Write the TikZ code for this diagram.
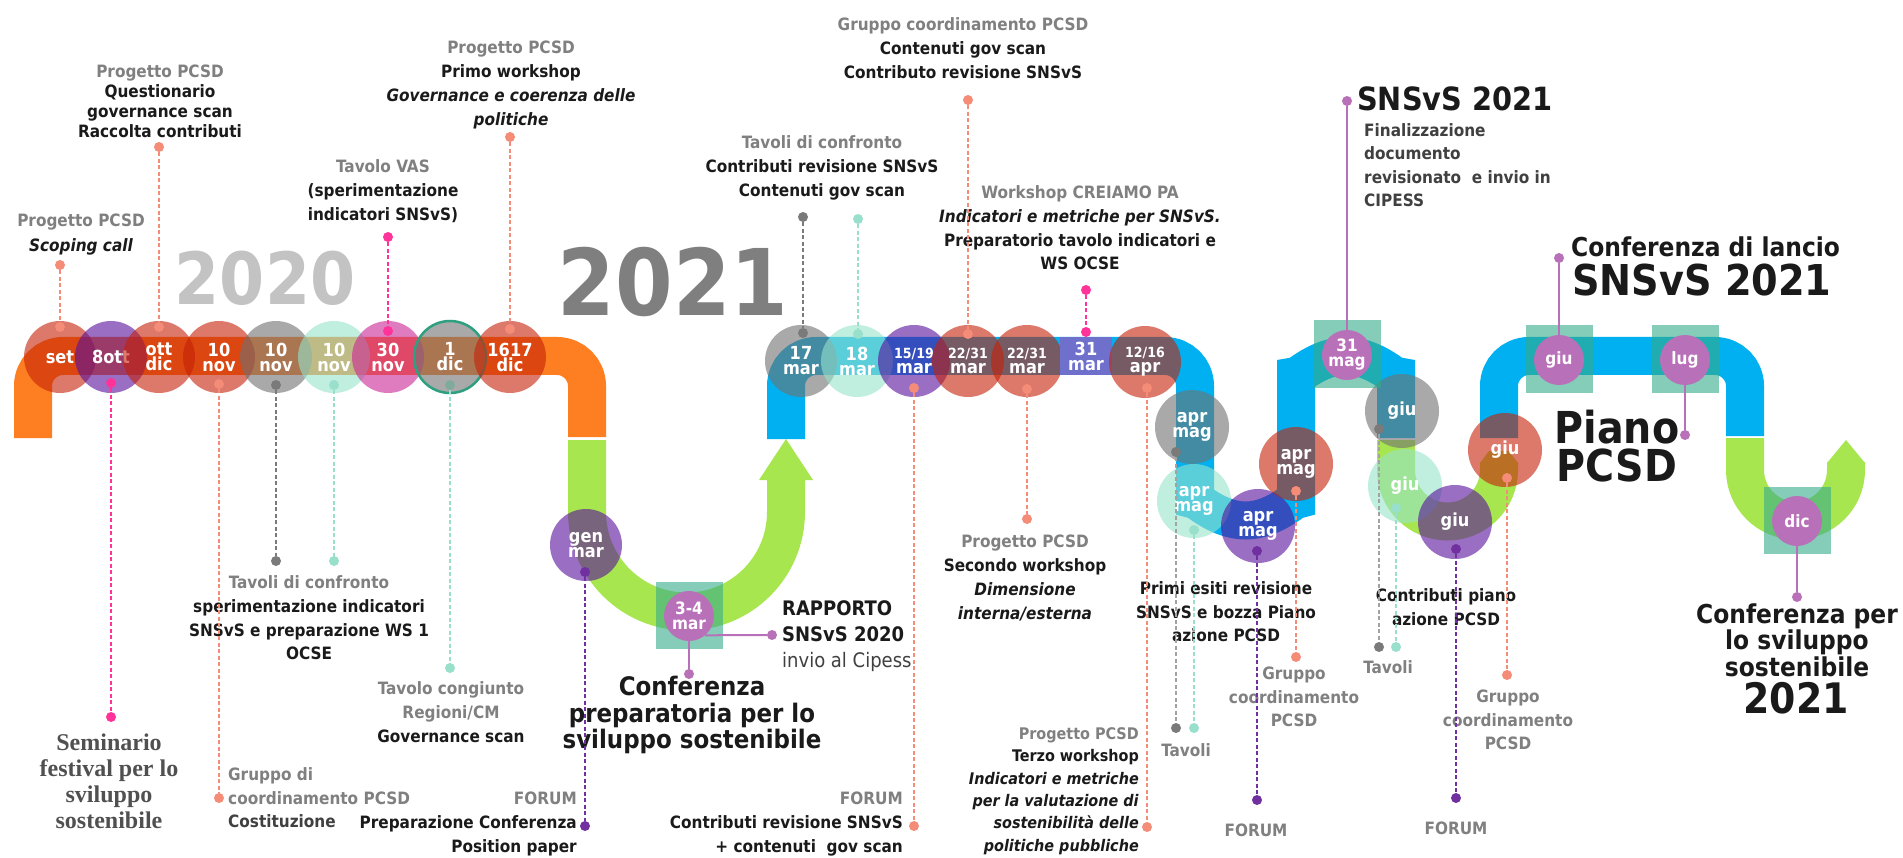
\documentclass[tikz,border=0pt]{standalone}
\usepackage{fontspec}
\setmainfont{DejaVu Sans Condensed}
\newfontfamily\seriffont{Liberation Serif}
\usepackage{tikz}
\usetikzlibrary{positioning}

\definecolor{orangeband}{HTML}{FD7F22}
\definecolor{blueband}{HTML}{00B0F0}
\definecolor{greenband}{HTML}{A8E650}
\definecolor{salmon}{HTML}{C52107}
\definecolor{violet}{HTML}{580F9B}
\definecolor{greyc}{HTML}{717171}
\definecolor{mint}{HTML}{96E3CB}
\definecolor{pinkc}{HTML}{CB2596}
\definecolor{orchid}{HTML}{B870B8}
\definecolor{tealsq}{HTML}{35AC89}
\definecolor{slate}{HTML}{6E70CC}
\definecolor{ring}{HTML}{2EA080}
\definecolor{dotsalmon}{HTML}{F48C78}
\definecolor{dotpink}{HTML}{FF3399}
\definecolor{dotgrey}{HTML}{7A7A7A}
\definecolor{dotmint}{HTML}{98DFCC}
\definecolor{dotdic}{HTML}{7FAA9C}
\definecolor{dotviolet}{HTML}{7030A0}
\definecolor{hdr}{HTML}{808080}
\definecolor{ink}{HTML}{1A1A1A}
\definecolor{ink2}{HTML}{404040}
\definecolor{semgrey}{HTML}{505050}
\definecolor{year20}{HTML}{C3C3C3}
\definecolor{year21}{HTML}{7F7F7F}

\begin{document}
\begin{tikzpicture}[x=1pt, y=-1pt]
    \tikzset{
        band/.style={line width=38pt},
        month/.style={circle, minimum size=72pt, inner sep=0pt, fill opacity=0.6, text opacity=1, text=white, align=center, font=\bfseries\fontsize{18}{15}\selectfont},
        keybox/.style={minimum size=67pt, inner sep=0pt, fill=tealsq, fill opacity=0.6},
        keyday/.style={circle, minimum size=50pt, inner sep=0pt, fill=orchid, text=white, align=center, font=\bfseries\fontsize{17}{15}\selectfont},
        spot/.style={circle, minimum size=10pt, inner sep=0pt},
        lead/.style={line width=1.5pt, dash pattern=on 4pt off 2.5pt},
        keylead/.style={line width=2pt, orchid},
        note/.style={align=center, inner sep=0pt, text=ink, font=\bfseries\fontsize{17}{24}\selectfont},
        tag/.style={inner sep=0pt, text=ink, font=\bfseries},
    }
    \fill[white] (0,0) rectangle (1903,858);
    \useasboundingbox (0,0) rectangle (1903,858);

    \node[tag, text=year20, font=\bfseries\fontsize{72}{72}\selectfont] (y2020) at (265,278) {2020};
    \node[tag, text=year21, font=\bfseries\fontsize{92}{92}\selectfont] (y2021) at (673,282) {2021};

    % track
    \draw[band, orangeband, rounded corners=30pt] (33,438) -- (33,356) -- (587,356) -- (587,437);
    \draw[band, greenband] (587,440) -- (587,512) arc[start angle=180, end angle=0, radius=99.5] -- (786,480);
    \fill[greenband] (759,480) -- (813,480) -- (786,439) -- cycle;
    \draw[band, blueband, rounded corners=30pt] (786,439) -- (786,356) -- (1195,356) -- (1195,470)
        arc[start angle=180, end angle=0, radius=50.5] -- (1296,406)
        arc[start angle=180, end angle=360, radius=50] -- (1396,438);
    \draw[band, greenband] (1396,440) -- (1396,470) arc[start angle=180, end angle=0, radius=51.5] -- (1499,462);
    \fill[greenband] (1480,463) -- (1489,451) -- (1509,451) -- (1518,463) -- cycle;
    \draw[band, blueband, rounded corners=30pt] (1499,438) -- (1499,356) -- (1745,356) -- (1745,436);
    \draw[band, greenband] (1745,438) -- (1745,470) arc[start angle=180, end angle=0, radius=50.5] -- (1846,462);
    \fill[greenband] (1827,463) -- (1865,463) -- (1846,440) -- cycle;

    % 2020
    \node[month, fill=salmon] (set) at (60,357) {set};
    \node[month, fill=violet] (ott8) at (111,357) {8ott};
    \node[month, fill=salmon] (ottdic) at (159,357) {ott\\dic};
    \node[month, fill=salmon] (nov10a) at (219,357) {10\\nov};
    \node[month, fill=greyc] (nov10b) at (276,357) {10\\nov};
    \node[month, fill=mint] (nov10c) at (334,357) {10\\nov};
    \node[month, fill=pinkc] (nov30) at (388,357) {30\\nov};
    \node[month, fill=greyc, draw=ring, line width=2.5pt] (dic1) at (450,357) {1\\dic};
    \node[month, fill=salmon] (dic1617) at (510,357) {1617\\dic};

    % 2021
    \node[month, fill=violet] (genmar) at (586,545) {gen\\mar};
    \node[month, fill=greyc] (mar17) at (801,361) {17\\mar};
    \node[month, fill=mint] (mar18) at (857,361) {18\\mar};
    \node[month, fill=violet] (mar1519) at (914,361) {{\fontsize{14}{15}\selectfont 15/19}\\mar};
    \node[month, fill=salmon] (mar2231a) at (968,361) {{\fontsize{14}{15}\selectfont 22/31}\\mar};
    \node[month, fill=salmon] (mar2231b) at (1027,361) {{\fontsize{14}{15}\selectfont 22/31}\\mar};
    \node[fill=slate, minimum width=52pt, minimum height=38pt, inner sep=0pt, text=white, align=center, font=\bfseries\fontsize{18}{15}\selectfont] (mar31) at (1086,356) {31\\mar};
    \node[month, fill=salmon] (apr1216) at (1145,362) {{\fontsize{14}{15}\selectfont 12/16}\\apr};
    \node[month, fill=greyc, minimum size=74pt] (am1) at (1192,427) {apr\\mag};
    \node[month, fill=mint, minimum size=74pt] (am2) at (1194,501) {apr\\mag};
    \node[month, fill=violet, minimum size=74pt] (am3) at (1258,526) {apr\\mag};
    \node[month, fill=salmon, minimum size=74pt] (am4) at (1296,464) {apr\\mag};
    \node[month, fill=greyc, minimum size=74pt] (giu1) at (1402,411) {giu};
    \node[month, fill=mint, minimum size=74pt] (giu2) at (1405,486) {giu};
    \node[month, fill=violet, minimum size=74pt] (giu3) at (1455,522) {giu};
    \node[month, fill=salmon, minimum size=74pt] (giu4) at (1505,450) {giu};

    % key dates
    \node[keybox] (mar34-box) at (689,615) {};
    \node[keybox] (mag31-box) at (1347,354) {};
    \node[keybox] (giu5-box) at (1559,359) {};
    \node[keybox] (lug-box) at (1685,359) {};
    \node[keybox] (dic-box) at (1797,520) {};
    \node[keyday] (mar34) at (689,616) {3-4\\mar};
    \node[keyday] (mag31) at (1347,355) {31\\mag};
    \node[keyday] (giu5) at (1559,360) {giu};
    \node[keyday] (lug) at (1685,360) {lug};
    \node[keyday] (dic) at (1797,521) {dic};

    % texts
    \node[note, font=\bfseries\fontsize{17}{25}\selectfont] (scoping) at (81,235) {\textcolor{hdr}{Progetto PCSD}\\\textit{Scoping call}};
    \node[note, font=\bfseries\fontsize{17}{20}\selectfont] (questionario) at (160,101) {\textcolor{hdr}{Progetto PCSD}\\Questionario\\governance scan\\Raccolta contributi};
    \node[note] (vas) at (383,191) {\textcolor{hdr}{Tavolo VAS}\\(sperimentazione\\indicatori SNSvS)};
    \node[note] (primo) at (511,85) {\textcolor{hdr}{Progetto PCSD}\\Primo workshop\\\textit{Governance e coerenza delle}\\\textit{politiche}};
    \node[note] (confronto) at (822,168) {\textcolor{hdr}{Tavoli di confronto}\\Contributi revisione SNSvS\\Contenuti gov scan};
    \node[note] (gruppo1) at (963,48) {\textcolor{hdr}{Gruppo coordinamento PCSD}\\Contenuti gov scan\\Contributo revisione SNSvS};
    \node[note, font=\bfseries\fontsize{17}{23.7}\selectfont] (creiamo) at (1080,228) {\textcolor{hdr}{Workshop CREIAMO PA}\\\textit{Indicatori e metriche per SNSvS.}\\Preparatorio tavolo indicatori e\\WS OCSE};
    \node[tag, anchor=west, font=\bfseries\fontsize{32}{32}\selectfont] (snsvs) at (1357,99) {SNSvS 2021};
    \node[note, anchor=north west, align=left, text=ink2, font=\bfseries\fontsize{17}{23.5}\selectfont] (finalizzazione) at (1364,123) {Finalizzazione\\documento\\revisionato~ e invio in\\CIPESS};
    \node[tag, anchor=west, font=\bfseries\fontsize{26}{26}\selectfont] (lancio) at (1571,247) {Conferenza di lancio};
    \node[tag, anchor=west, font=\bfseries\fontsize{42.5}{42.5}\selectfont] (lancio2) at (1572,280) {SNSvS 2021};
    \node[note, font=\bfseries\fontsize{44}{38}\selectfont] (piano) at (1617,446) {Piano\\PCSD};

    \node[note, text=semgrey, font=\seriffont\bfseries\fontsize{24}{26}\selectfont] (seminario) at (109,781) {Seminario\\festival per lo\\sviluppo\\sostenibile};
    \node[note, anchor=west, align=left, font=\bfseries\fontsize{17}{23.5}\selectfont] (costituzione) at (228,798) {\textcolor{hdr}{Gruppo di}\\\textcolor{hdr}{coordinamento PCSD}\\\textcolor{ink2}{Costituzione}};
    \node[note, font=\bfseries\fontsize{17}{23.7}\selectfont] (tavoli20) at (309,618) {\textcolor{hdr}{Tavoli di confronto}\\sperimentazione indicatori\\SNSvS e preparazione WS 1\\OCSE};
    \node[note] (congiunto) at (451,712) {\textcolor{hdr}{Tavolo congiunto}\\\textcolor{hdr}{Regioni/CM}\\Governance scan};
    \node[note, anchor=east, align=right] (posizione) at (577,824) {\textcolor{hdr}{FORUM}\\Preparazione Conferenza\\Position paper};
    \node[note, anchor=west, align=left, font=\bfseries\fontsize{20}{26}\selectfont] (rapporto) at (782,636) {RAPPORTO\\SNSvS 2020\\\textcolor{ink2}{\mdseries invio al Cipess}};
    \node[note, font=\bfseries\fontsize{25.5}{26.5}\selectfont] (preparatoria) at (692,715) {Conferenza\\preparatoria per lo\\sviluppo sostenibile};
    \node[note, anchor=east, align=right] (forum2) at (903,824) {\textcolor{hdr}{FORUM}\\Contributi revisione SNSvS\\+ contenuti~ gov scan};
    \node[note] (secondo) at (1025,578) {\textcolor{hdr}{Progetto PCSD}\\Secondo workshop\\\textit{Dimensione}\\\textit{interna/esterna}};
    \node[note, anchor=east, align=right, font=\bfseries\fontsize{16}{22.4}\selectfont] (terzo) at (1139,791) {\textcolor{hdr}{Progetto PCSD}\\Terzo workshop\\\textit{Indicatori e metriche}\\\textit{per la valutazione di}\\\textit{sostenibilità delle}\\\textit{politiche pubbliche}};
    \node[note, text=hdr] (tavoli1) at (1186,750) {Tavoli};
    \node[note, font=\bfseries\fontsize{17}{23.5}\selectfont] (primi) at (1226,612) {Primi esiti revisione\\SNSvS e bozza Piano\\azione PCSD};
    \node[note, text=hdr] (forum3) at (1256,830) {FORUM};
    \node[note, text=hdr, font=\bfseries\fontsize{17}{23.5}\selectfont] (gruppo2) at (1294,697) {Gruppo\\coordinamento\\PCSD};
    \node[note, text=hdr] (tavoli2) at (1388,667) {Tavoli};
    \node[note] (contributi) at (1446,607) {Contributi piano\\azione PCSD};
    \node[note, text=hdr] (forum4) at (1456,828) {FORUM};
    \node[note, text=hdr, font=\bfseries\fontsize{17}{23.5}\selectfont] (gruppo3) at (1508,720) {Gruppo\\coordinamento\\PCSD};
    \node[note, font=\bfseries\fontsize{26}{26.5}\selectfont] (conferenza) at (1797,640) {Conferenza per\\lo sviluppo\\sostenibile};
    \node[tag, font=\bfseries\fontsize{42}{42}\selectfont] (conferenza2) at (1796,698) {2021};

    % dots inside the circles
    \node[spot, fill=dotsalmon] (set-d) at (60,327) {};
    \node[spot, fill=dotpink] (ott8-d) at (111,383) {};
    \node[spot, fill=dotsalmon] (ottdic-d) at (159,327) {};
    \node[spot, fill=dotsalmon] (nov10a-d) at (219,384) {};
    \node[spot, fill=dotgrey] (nov10b-d) at (276,385) {};
    \node[spot, fill=dotmint] (nov10c-d) at (334,385) {};
    \node[spot, fill=dotpink] (nov30-d) at (388,331) {};
    \node[spot, fill=dotdic] (dic1-d) at (450,385) {};
    \node[spot, fill=dotsalmon] (dic1617-d) at (510,329) {};
    \node[spot, fill=dotviolet] (genmar-d) at (585,572) {};
    \node[spot, fill=dotgrey] (mar17-d) at (803,333) {};
    \node[spot, fill=dotmint] (mar18-d) at (858,334) {};
    \node[spot, fill=dotsalmon] (mar1519-d) at (914,388) {};
    \node[spot, fill=dotsalmon] (mar2231a-d) at (968,334) {};
    \node[spot, fill=dotsalmon] (mar2231b-d) at (1027,389) {};
    \node[spot, fill=dotpink] (mar31-d) at (1086,332) {};
    \node[spot, fill=dotsalmon] (apr1216-d) at (1147,388) {};
    \node[spot, fill=dotgrey] (am1-d) at (1176,452) {};
    \node[spot, fill=dotmint] (am2-d) at (1194,530) {};
    \node[spot, fill=dotviolet] (am3-d) at (1257,551) {};
    \node[spot, fill=dotsalmon] (am4-d) at (1296,491) {};
    \node[spot, fill=dotgrey] (giu1-d) at (1379,429) {};
    \node[spot, fill=dotmint] (giu2-d) at (1396,508) {};
    \node[spot, fill=dotviolet] (giu3-d) at (1456,549) {};
    \node[spot, fill=dotsalmon] (giu4-d) at (1507,478) {};

    % dots at the texts
    \node[spot, fill=dotsalmon] (set-p) at (60,265) {};
    \node[spot, fill=dotpink] (ott8-p) at (111,717) {};
    \node[spot, fill=dotsalmon] (ottdic-p) at (159,147) {};
    \node[spot, fill=dotsalmon] (nov10a-p) at (219,798) {};
    \node[spot, fill=dotgrey] (nov10b-p) at (276,561) {};
    \node[spot, fill=dotmint] (nov10c-p) at (334,561) {};
    \node[spot, fill=dotpink] (nov30-p) at (388,237) {};
    \node[spot, fill=dotmint] (dic1-p) at (450,668) {};
    \node[spot, fill=dotsalmon] (dic1617-p) at (510,137) {};
    \node[spot, fill=dotviolet] (genmar-p) at (585,826) {};
    \node[spot, fill=dotgrey] (mar17-p) at (803,217) {};
    \node[spot, fill=dotmint] (mar18-p) at (858,219) {};
    \node[spot, fill=dotsalmon] (mar1519-p) at (914,826) {};
    \node[spot, fill=dotsalmon] (mar2231a-p) at (968,100) {};
    \node[spot, fill=dotsalmon] (mar2231b-p) at (1027,519) {};
    \node[spot, fill=dotpink] (mar31-p) at (1086,290) {};
    \node[spot, fill=dotsalmon] (apr1216-p) at (1147,827) {};
    \node[spot, fill=dotgrey] (am1-p) at (1176,728) {};
    \node[spot, fill=dotmint] (am2-p) at (1194,728) {};
    \node[spot, fill=dotviolet] (am3-p) at (1257,800) {};
    \node[spot, fill=dotsalmon] (am4-p) at (1296,657) {};
    \node[spot, fill=dotgrey] (giu1-p) at (1379,647) {};
    \node[spot, fill=dotmint] (giu2-p) at (1396,647) {};
    \node[spot, fill=dotviolet] (giu3-p) at (1456,798) {};
    \node[spot, fill=dotsalmon] (giu4-p) at (1507,675) {};
    \node[spot, fill=orchid] (mar34-p) at (689,674) {};
    \node[spot, fill=orchid] (rapporto-p) at (772,635) {};
    \node[spot, fill=orchid] (mag31-p) at (1347,101) {};
    \node[spot, fill=orchid] (giu5-p) at (1559,258) {};
    \node[spot, fill=orchid] (lug-p) at (1685,435) {};
    \node[spot, fill=orchid] (dic-p) at (1797,597) {};

    \draw[lead, dotsalmon] (set-p) -- (set-d);
    \draw[lead, dotpink] (ott8-d) -- (ott8-p);
    \draw[lead, dotsalmon] (ottdic-p) -- (ottdic-d);
    \draw[lead, dotsalmon] (nov10a-d) -- (nov10a-p);
    \draw[lead, dotgrey] (nov10b-d) -- (nov10b-p);
    \draw[lead, dotmint] (nov10c-d) -- (nov10c-p);
    \draw[lead, dotpink] (nov30-p) -- (nov30-d);
    \draw[lead, dotmint] (dic1-d) -- (dic1-p);
    \draw[lead, dotsalmon] (dic1617-p) -- (dic1617-d);
    \draw[lead, dotviolet] (genmar-d) -- (genmar-p);
    \draw[lead, dotgrey] (mar17-p) -- (mar17-d);
    \draw[lead, dotmint] (mar18-p) -- (mar18-d);
    \draw[lead, dotsalmon] (mar1519-d) -- (mar1519-p);
    \draw[lead, dotsalmon] (mar2231a-p) -- (mar2231a-d);
    \draw[lead, dotsalmon] (mar2231b-d) -- (mar2231b-p);
    \draw[lead, dotpink] (mar31-p) -- (mar31-d);
    \draw[lead, dotsalmon] (apr1216-d) -- (apr1216-p);
    \draw[lead, dotgrey!70] (am1-d) -- (am1-p);
    \draw[lead, dotmint] (am2-d) -- (am2-p);
    \draw[lead, dotviolet] (am3-d) -- (am3-p);
    \draw[lead, dotsalmon] (am4-d) -- (am4-p);
    \draw[lead, dotgrey!70] (giu1-d) -- (giu1-p);
    \draw[lead, dotmint] (giu2-d) -- (giu2-p);
    \draw[lead, dotviolet] (giu3-d) -- (giu3-p);
    \draw[lead, dotsalmon] (giu4-d) -- (giu4-p);

    \draw[keylead] (mar34) -- (mar34-p);
    \draw[keylead] (mar34.-50) -- (rapporto-p);
    \draw[keylead] (mag31-p) -- (mag31);
    \draw[keylead] (giu5-p) -- (giu5);
    \draw[keylead] (lug) -- (lug-p);
    \draw[keylead] (dic) -- (dic-p);
\end{tikzpicture}
\end{document}
